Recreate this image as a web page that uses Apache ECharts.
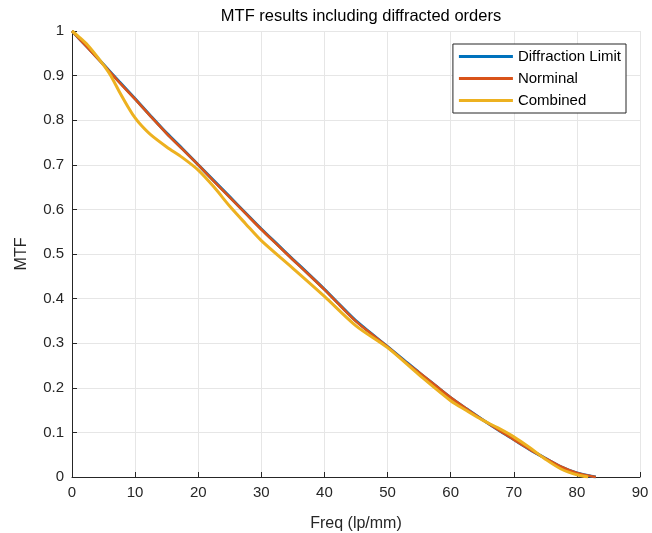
<!DOCTYPE html>
<html>
<head>
<meta charset="utf-8">
<script src="https://cdn.jsdelivr.net/npm/echarts@6/dist/echarts.min.js"></script>
<style>
    html, body { margin: 0; padding: 0; background: #fff; }
    #chart { width: 652px; height: 533px; }
</style>
</head>
<body>
<div id="chart"></div>
<script>
// spatial frequency samples (lp/mm)
const freqNom = [0, 2.5, 5, 7.5, 10, 12.5, 15, 17.5, 20, 22.5, 25, 27.5, 30, 32.5, 35, 37.5, 40, 42.5, 45, 47.5,
    50, 52.5, 55, 57.5, 60, 62.5, 65, 67.5, 70, 72.5, 75, 77.5, 80, 82.5, 83];
const diffLimit = [1.000, 0.963, 0.925, 0.886, 0.848, 0.809, 0.771, 0.736, 0.700, 0.664, 0.628, 0.592, 0.556, 0.522,
    0.488, 0.455, 0.421, 0.385, 0.350, 0.321, 0.292, 0.263, 0.234, 0.206, 0.178, 0.153, 0.129, 0.106, 0.084, 0.062,
    0.042, 0.023, 0.009, 0.001, 0];
const nominal = [1.000, 0.962, 0.924, 0.885, 0.847, 0.808, 0.770, 0.735, 0.700, 0.663, 0.627, 0.591, 0.555, 0.521,
    0.487, 0.454, 0.420, 0.384, 0.349, 0.320, 0.292, 0.262, 0.234, 0.206, 0.178, 0.153, 0.129, 0.106, 0.084, 0.062,
    0.042, 0.023, 0.009, 0.001, 0];

const freqComb = [0, 1, 2.5, 4.5, 6, 7.5, 9, 10, 11, 12.5, 15, 17.5, 20, 22.5, 25, 27.5, 30, 35, 40, 45, 50, 55, 60,
    62.5, 65, 67.5, 70, 72.5, 75, 77.5, 80, 81.8];
const combined = [1.000, 0.988, 0.968, 0.933, 0.903, 0.864, 0.827, 0.805, 0.788, 0.767, 0.740, 0.716, 0.688, 0.650,
    0.607, 0.568, 0.530, 0.468, 0.405, 0.339, 0.290, 0.229, 0.171, 0.149, 0.128, 0.110, 0.090, 0.066, 0.040, 0.018,
    0.005, 0];

const FONT = 'Arial, "Liberation Sans", Helvetica, sans-serif';
const pair = (xs, ys) => xs.map((x, i) => [x, ys[i]]);

const chart = echarts.init(document.getElementById('chart'));
chart.setOption({
    animation: false,
    backgroundColor: '#fff',
    title: {
        text: 'MTF results including diffracted orders',
        left: 356,
        textAlign: 'center',
        top: 3,
        textStyle: {fontFamily: FONT, fontSize: 16.5, fontWeight: 'normal', color: '#000'}
    },
    grid: {left: 72, right: 12, top: 31, bottom: 56, outerBoundsMode: 'none'},
    legend: {
        orient: 'vertical',
        right: 26,
        top: 44,
        backgroundColor: '#fff',
        borderColor: '#262626',
        borderWidth: 1,
        padding: [5, 5, 5, 6],
        itemWidth: 54,
        itemHeight: 3,
        itemGap: 7,
        icon: 'rect',
        textStyle: {fontFamily: FONT, fontSize: 15, color: '#000'},
        data: ['Diffraction Limit', 'Norminal', 'Combined']
    },
    xAxis: {
        type: 'value',
        min: 0,
        max: 90,
        interval: 10,
        name: 'Freq (lp/mm)',
        nameLocation: 'middle',
        nameGap: 39,
        nameTextStyle: {fontFamily: FONT, fontSize: 16, color: '#262626'},
        axisLine: {lineStyle: {color: '#262626', width: 1}},
        axisTick: {inside: true, length: 5, lineStyle: {color: '#262626'}},
        axisLabel: {fontFamily: FONT, fontSize: 15, color: '#262626', margin: 8},
        splitLine: {show: true, lineStyle: {color: '#e6e6e6', width: 1}}
    },
    yAxis: {
        type: 'value',
        min: 0,
        max: 1,
        interval: 0.1,
        name: 'MTF',
        nameLocation: 'middle',
        nameGap: 42,
        nameTextStyle: {fontFamily: FONT, fontSize: 16, color: '#262626'},
        axisLine: {show: true, lineStyle: {color: '#262626', width: 1}},
        axisTick: {show: true, inside: true, length: 5, lineStyle: {color: '#262626'}},
        axisLabel: {fontFamily: FONT, fontSize: 15, color: '#262626', margin: 8},
        splitLine: {show: true, lineStyle: {color: '#e6e6e6', width: 1}}
    },
    series: [
        {
            name: 'Diffraction Limit',
            type: 'line',
            data: pair(freqNom, diffLimit),
            showSymbol: false,
            smooth: 0.3,
            color: '#0072BD',
            lineStyle: {width: 3, color: '#0072BD'}
        },
        {
            name: 'Norminal',
            type: 'line',
            data: pair(freqNom, nominal),
            showSymbol: false,
            smooth: 0.3,
            color: '#D95319',
            lineStyle: {width: 2.6, color: '#D95319'}
        },
        {
            name: 'Combined',
            type: 'line',
            data: pair(freqComb, combined),
            showSymbol: false,
            smooth: 0.3,
            color: '#EDB120',
            lineStyle: {width: 3, color: '#EDB120'}
        }
    ]
});
</script>
</body>
</html>
